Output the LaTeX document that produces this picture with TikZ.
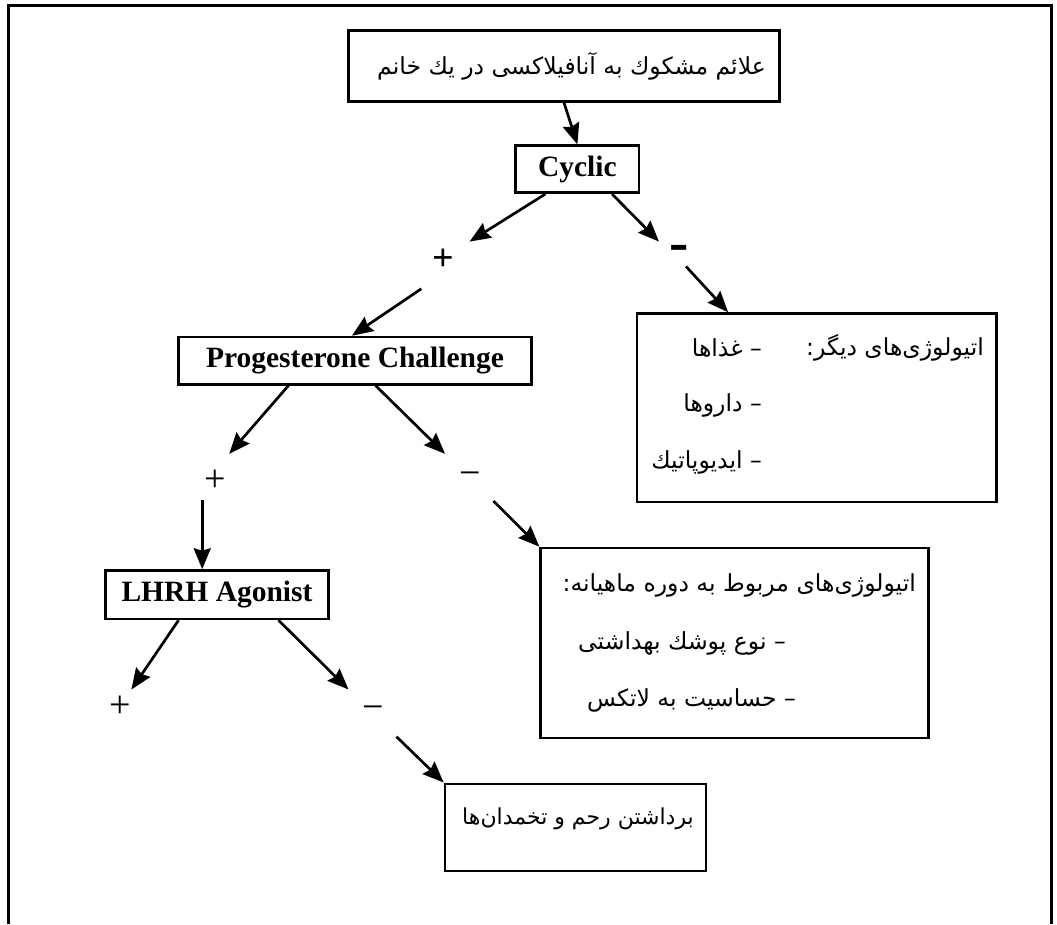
\documentclass[tikz,border=0pt]{standalone}
\usepackage{fontspec}
\setmainfont{Liberation Serif}
\newfontfamily\fa[Script=Arabic]{DejaVu Sans}
\TeXXeTstate=1
\usetikzlibrary{arrows.meta,calc}
\tikzset{
  box/.style={draw, line width=2.6pt, inner sep=0pt},
  lat/.style={font=\fontsize{29.5}{30}\selectfont\bfseries, inner sep=0pt},
  per/.style={font=\fa\fontsize{23.5}{25}\selectfont, inner sep=0pt, anchor=east},
  sgn/.style={font=\fontsize{38}{38}\selectfont, inner sep=0pt},
  arr/.style={line width=2.7pt, -{Stealth[length=21pt,width=17pt,inset=2.5pt]}},
  frame/.style={line width=3pt}
}
\begin{document}
\begin{tikzpicture}[x=1pt,y=-1pt]
\useasboundingbox (0,0) rectangle (1057,924);
\draw[frame] (8,924) -- (8,5) -- (1051,5) -- (1051,924);
% boxes
\node[box, minimum width=431.5pt, minimum height=70.8pt] (top) at (564,66) {};
\node[per] (toptxt) at (766,66) {\beginR علائم مشكوك به آنافیلاكسی در یك خانم\endR};
\node[box, lat, minimum width=123.3pt, minimum height=47pt] (cyc) at (577.4,169.2) {Cyclic};
\node[box, lat, minimum width=352.6pt, minimum height=47.2pt] (prog) at (355,360.6) {Progesterone Challenge};
\node[box, minimum width=359.3pt, minimum height=188.5pt] (box1) at (816.7,407.8) {};
\node[per] (b1a) at (984,347.7) {\beginR اتیولوژی‌های دیگر:\endR};
\node[per] (b1b) at (762,347.7) {\beginR – غذاها\endR};
\node[per] (b1c) at (762,405.4) {\beginR – داروها\endR};
\node[per] (b1d) at (762,462.6) {\beginR – ایدیوپاتیك\endR};
\node[box, lat, minimum width=222.5pt, minimum height=48.3pt] (lhrh) at (217,594.7) {LHRH Agonist};
\node[box, minimum width=387.7pt, minimum height=189.8pt] (box2) at (734.5,642.9) {};
\node[per] (b2a) at (916,585) {\beginR اتیولوژی‌های مربوط به دوره ماهیانه:\endR};
\node[per] (b2b) at (786,643.5) {\beginR – نوع پوشك بهداشتی\endR};
\node[per] (b2c) at (796,700) {\beginR – حساسیت به لاتكس\endR};
\node[box, minimum width=260.9pt, minimum height=87.2pt] (box3) at (575.4,827.4) {};
\node[per, font=\fa\fontsize{22}{24}\selectfont] (b3a) at (694,819) {\beginR برداشتن رحم و تخمدان‌ها\endR};
% signs
\node[sgn, font=\fontsize{38}{38}\selectfont\bfseries] (p1) at (443.6,259.3) {+};
\node[sgn, font=\fontsize{58}{58}\selectfont\bfseries] (m1) at (679.5,253) {-};
\node[sgn] (p2) at (215.7,480.3) {+};
\node[sgn] (m2) at (470,478.5) {−};
\node[sgn] (p3) at (120,707.2) {+};
\node[sgn] (m3) at (372.8,713) {−};
% arrows
\draw[arr] (top.south) -- (cyc.north);
\draw[arr] ([xshift=-32pt]cyc.south) -- ($(p1)+(26,-17.7)$);
\draw[arr] ($(p1)+(-22.3,29.5)$) -- ([xshift=-3pt]prog.north);
\draw[arr] ([xshift=34.6pt]cyc.south) -- ($(m1)+(-20.5,-11.4)$);
\draw[arr] ($(m1)+(6.5,13.4)$) -- ([xshift=92.4pt]box1.north west);
\draw[arr] ([xshift=-66.5pt]prog.south) -- ($(p2)+(13.5,-26.5)$);
\draw[arr] ($(p2)+(-13.5,19.4)$) -- ([xshift=-14.8pt]lhrh.north);
\draw[arr] ([xshift=20.5pt]prog.south) -- ($(m2)+(-25,-24.7)$);
\draw[arr] ($(m2)+(23.4,22.5)$) -- (box2.north west);
\draw[arr] ([xshift=-38.4pt]lhrh.south) -- ($(p3)+(11.4,-17.7)$);
\draw[arr] ([xshift=61.4pt]lhrh.south) -- ($(m3)+(-24.3,-23.5)$);
\draw[arr] ($(m3)+(23.6,23.6)$) -- (box3.north west);
\end{tikzpicture}
\end{document}
